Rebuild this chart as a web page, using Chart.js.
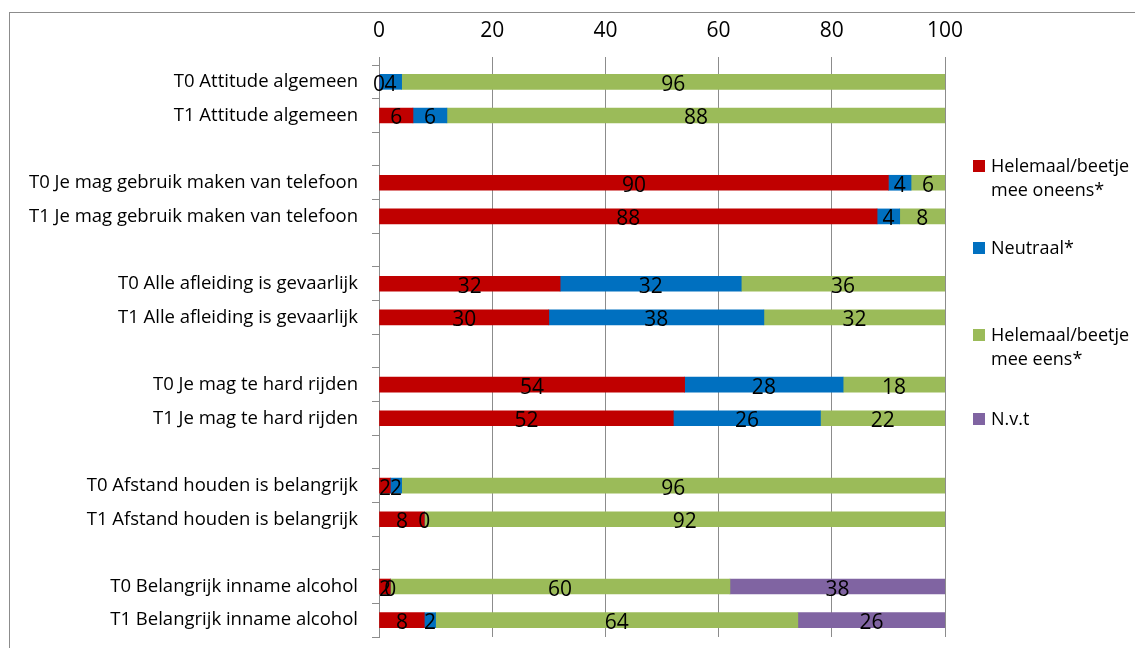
<!DOCTYPE html>
<html>
<head>
<meta charset="utf-8">
<script src="https://cdn.jsdelivr.net/npm/chart.js@4"></script>
<style>
  html, body { margin: 0; padding: 0; background: #fff; overflow: hidden; }
  #wrap { position: relative; width: 1135px; height: 648px; overflow: hidden; }
  #frame { position: absolute; left: 9px; top: 12px; width: 1160px; height: 720px; border: 1px solid #8c8c8c; box-sizing: border-box; }
  #chart { position: absolute; left: 0; top: 0; display: block; }
  #legend { position: absolute; left: 973px; top: 150px; font-family: "Open Sans", sans-serif; font-size: 18px; color: #000; }
  .item { position: absolute; left: 0; width: 170px; line-height: 24px; padding-left: 18px; white-space: nowrap; }
  .item i { position: absolute; left: 0; top: 7px; width: 12px; height: 12px; }
</style>
</head>
<body>
<div id="wrap">
  <div id="frame"></div>
  <canvas id="chart" width="1135" height="648"></canvas>
  <div id="legend"></div>
</div>
<script>
// rows from top to bottom, empty strings are spacer rows between the pairs
const categories = [
  'T0 Attitude algemeen', 'T1 Attitude algemeen', '',
  'T0 Je mag gebruik maken van telefoon', 'T1 Je mag gebruik maken van telefoon', '',
  'T0 Alle afleiding is gevaarlijk', 'T1 Alle afleiding is gevaarlijk', '',
  'T0 Je mag te hard rijden', 'T1 Je mag te hard rijden', '',
  'T0 Afstand houden is belangrijk', 'T1 Afstand houden is belangrijk', '',
  'T0 Belangrijk inname alcohol', 'T1 Belangrijk inname alcohol'
];

const oneens  = [0, 6, null, 90, 88, null, 32, 30, null, 54, 52, null, 2, 8, null, 2, 8];
const neutraal = [4, 6, null, 4, 4, null, 32, 38, null, 28, 26, null, 2, 0, null, 0, 2];
const eens    = [96, 88, null, 6, 8, null, 36, 32, null, 18, 22, null, 96, 92, null, 60, 64];
const nvt     = [null, null, null, null, null, null, null, null, null, null, null, null, null, null, null, 38, 26];

const xTicks = [0, 20, 40, 60, 80, 100];

const seriesNames = ['Helemaal/beetje\nmee oneens*', 'Neutraal*', 'Helemaal/beetje\nmee eens*', 'N.v.t'];
const seriesColors = ['#C00000', '#0070C0', '#9BBB59', '#8064A2'];

const FONT = '"Open Sans", sans-serif';
const AXIS_LEFT = 379;
const AXIS_TOP = 65;

// draws the value centred on every segment
const segmentLabels = {
  id: 'segmentLabels',
  afterDatasetsDraw(chart) {
    const ctx = chart.ctx;
    ctx.save();
    ctx.font = '21px ' + FONT;
    ctx.fillStyle = '#000';
    ctx.textAlign = 'center';
    ctx.textBaseline = 'middle';
    chart.data.datasets.forEach((ds, i) => {
      const meta = chart.getDatasetMeta(i);
      meta.data.forEach((bar, j) => {
        const v = ds.data[j];
        if (v === null || v === undefined) return;
        const c = bar.getCenterPoint();
        ctx.fillText(String(v), c.x, c.y + 3);
      });
    });
    ctx.restore();
  }
};

const datasets = [oneens, neutraal, eens, nvt].map((d, i) => ({
  label: seriesNames[i],
  data: d,
  backgroundColor: seriesColors[i],
  barThickness: 15
}));

new Chart(document.getElementById('chart'), {
  type: 'bar',
  data: { labels: categories, datasets: datasets },
  options: {
    indexAxis: 'y',
    responsive: false,
    animation: false,
    layout: { padding: { left: 0, right: 190, top: 0, bottom: 11 } },
    plugins: {
      legend: { display: false },
      tooltip: { enabled: false }
    },
    scales: {
      x: {
        position: 'top',
        stacked: true,
        min: 0,
        max: 100,
        afterBuildTicks(scale) { scale.ticks = xTicks.map(v => ({ value: v })); },
        afterFit(scale) { scale.height = AXIS_TOP; scale.paddingLeft = 0; scale.paddingRight = 0; },
        border: { display: false },
        grid: { color: '#8c8c8c', lineWidth: 1, tickLength: 8 },
        ticks: { color: '#000', font: { family: FONT, size: 21 }, padding: 13 }
      },
      y: {
        stacked: true,
        afterFit(scale) { scale.width = AXIS_LEFT; scale.paddingTop = 0; scale.paddingBottom = 0; },
        border: { display: true, color: '#8c8c8c' },
        grid: { offset: true, drawOnChartArea: false, color: '#8c8c8c', tickLength: 7 },
        ticks: { color: '#000', font: { family: FONT, size: 18.5 }, padding: 14, autoSkip: false }
      }
    }
  },
  plugins: [segmentLabels]
});

// legend at the right, built from the datasets
const legend = document.getElementById('legend');
const legendTops = [3, 85, 172, 256];
datasets.forEach((ds, i) => {
  const div = document.createElement('div');
  div.className = 'item';
  div.style.top = legendTops[i] + 'px';
  div.innerHTML = '<i style="background:' + ds.backgroundColor + '"></i>' + ds.label.replace('\n', '<br>');
  legend.appendChild(div);
});
</script>
</body>
</html>
